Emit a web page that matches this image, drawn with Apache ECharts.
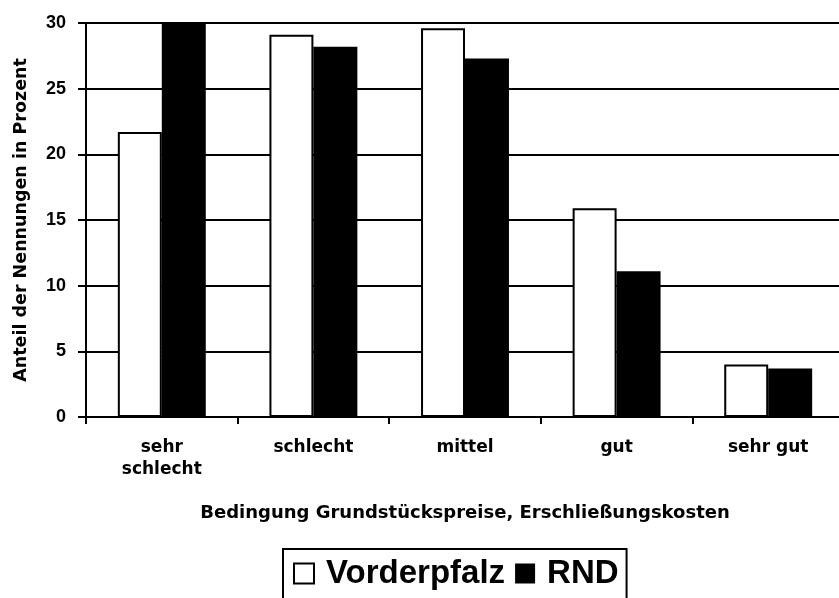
<!DOCTYPE html>
<html>
<head>
<meta charset="utf-8">
<script src="https://cdn.jsdelivr.net/npm/echarts@6/dist/echarts.min.js"></script>
<style>
  html, body { margin: 0; padding: 0; background: #fff; }
  #chart { width: 839px; height: 598px; }
</style>
</head>
<body>
<div id="chart"></div>
<script>
// Kategorien und Werte (Anteil in Prozent)
const categories = ['sehr\nschlecht', 'schlecht', 'mittel', 'gut', 'sehr gut'];
const vorderpfalz = [21.7, 29.1, 29.6, 15.9, 4.0];
const rnd = [30.0, 28.2, 27.3, 11.1, 3.7];
const yTicks = { min: 0, max: 30, interval: 5 };

const smallFont = 'DejaVu Sans';
const black = '#000';

const chart = echarts.init(document.getElementById('chart'), null, { renderer: 'canvas' });

const option = {
  animation: false,
  backgroundColor: '#fff',
  // Plotfläche läuft rechts etwas über den Rand hinaus
  grid: { left: 86, top: 23, width: 758, bottom: 181, containLabel: false, outerBoundsMode: 'none' },
  legend: {
    left: 283,
    top: 549,
    padding: [8, 8, 40, 10],
    borderColor: black,
    borderWidth: 2,
    itemWidth: 20,
    itemHeight: 20,
    itemGap: 10,
    icon: 'rect',
    textStyle: {
      fontFamily: 'Liberation Sans',
      fontWeight: 'bold',
      fontSize: 33,
      color: black,
      padding: [0, 0, 0, 7]
    },
    data: ['Vorderpfalz', 'RND']
  },
  xAxis: {
    type: 'category',
    data: categories,
    name: 'Bedingung Grundstückspreise, Erschließungskosten',
    nameLocation: 'middle',
    nameGap: 87,
    nameTextStyle: { fontFamily: smallFont, fontWeight: 'bold', fontSize: 18, color: black },
    axisLine: { lineStyle: { color: black, width: 2 } },
    axisTick: { show: true, length: 7, lineStyle: { color: black, width: 2 } },
    axisLabel: {
      fontFamily: smallFont, fontWeight: 'bold', fontSize: 17, color: black,
      margin: 20, lineHeight: 22
    }
  },
  yAxis: {
    type: 'value',
    min: yTicks.min,
    max: yTicks.max,
    interval: yTicks.interval,
    name: 'Anteil der Nennungen in Prozent',
    nameLocation: 'middle',
    nameRotate: 90,
    nameGap: 56,
    nameTextStyle: { fontFamily: smallFont, fontWeight: 'bold', fontSize: 17.5, color: black },
    axisLine: { show: true, lineStyle: { color: black, width: 2 } },
    axisTick: { show: true, length: 8, lineStyle: { color: black, width: 2 } },
    axisLabel: { fontFamily: 'Liberation Sans', fontWeight: 'bold', fontSize: 18, color: black, margin: 20 },
    splitLine: { show: true, lineStyle: { color: black, width: 2 } }
  },
  series: [
    {
      name: 'Vorderpfalz',
      type: 'bar',
      data: vorderpfalz,
      barGap: '0%',
      barCategoryGap: '42%',
      itemStyle: { color: '#fff', borderColor: black, borderWidth: 2 }
    },
    {
      name: 'RND',
      type: 'bar',
      data: rnd,
      barGap: '0%',
      barCategoryGap: '42%',
      itemStyle: { color: black, borderColor: black, borderWidth: 0 }
    }
  ]
};

chart.setOption(option);
</script>
</body>
</html>
